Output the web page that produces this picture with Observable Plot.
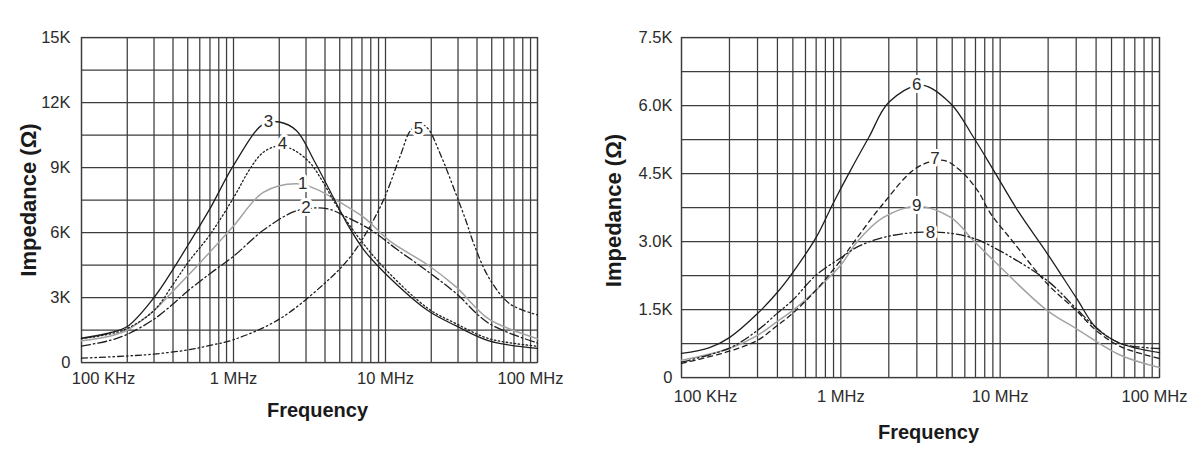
<!DOCTYPE html>
<html><head><meta charset="utf-8">
<script src="https://cdn.jsdelivr.net/npm/d3@7"></script>
<script src="https://cdn.jsdelivr.net/npm/@observablehq/plot@0.6"></script>
<style>
body{margin:0;background:#fff}
#wrap{position:relative;width:1200px;height:458px;overflow:hidden;background:#fff}
#wrap svg{position:absolute;top:0}
</style>
</head><body><div id="wrap"></div>
<script>
// ---------- shared ----------
const xTitle = "Frequency";
const yTitle = "Impedance (Ω)";
const xTicks = [1e5, 1e6, 1e7, 1e8];
const xTickLabels = ["100 KHz", "1 MHz", "10 MHz", "100 MHz"];
const logGrid = [1e5,2e5,3e5,4e5,5e5,6e5,7e5,8e5,9e5,1e6,2e6,3e6,4e6,5e6,6e6,7e6,8e6,9e6,1e7,2e7,3e7,4e7,5e7,6e7,7e7,8e7,9e7,1e8];

// ---------- left chart ----------
const leftYTicks = [0, 3000, 6000, 9000, 12000, 15000];
const leftYTickLabels = ["0", "3K", "6K", "9K", "12K", "15K"];
const leftYGrid = [0,1500,3000,4500,6000,7500,9000,10500,12000,13500,15000];

const c1F = [1e5,1.5e5,2e5,3e5,4e5,5e5,7e5,1e6,1.57e6,2.6e6,3.5e6,5e6,7.2e6,1.07e7,1.9e7,2.9e7,4.8e7,1e8];
const c1V = [1000,1200,1500,2400,3300,4000,5100,6300,7850,8250,8000,7400,6700,5600,4500,3500,2000,1100];
const c2F = [1e5,1.5e5,2e5,3e5,4e5,5e5,7e5,1e6,1.57e6,2.6e6,4.1e6,5.6e6,8.1e6,1.2e7,1.9e7,2.9e7,4.8e7,1e8];
const c2V = [760,1000,1300,2000,2700,3300,4100,4900,6100,7000,7100,6700,6100,5200,4200,3200,1800,900];
const c3F = [1e5,1.5e5,2e5,3e5,4e5,5e5,7e5,1e6,1.57e6,2e6,2.6e6,3.4e6,4.4e6,5.6e6,7.2e6,1e7,1.9e7,2.9e7,4.8e7,1e8];
const c3V = [1120,1350,1660,3000,4300,5400,7100,9100,11000,11100,10700,9300,7800,6400,5200,4100,2400,1700,1000,650];
const c4F = [1e5,1.5e5,2e5,3e5,4e5,5e5,7e5,1e6,1.3e6,1.57e6,2e6,2.5e6,3.2e6,3.9e6,4.8e6,6.6e6,1e7,1.9e7,2.9e7,4.8e7,1e8];
const c4V = [1100,1300,1570,2400,3600,4600,5900,7600,9000,9700,10000,9800,9200,8300,7200,5800,4300,2500,1800,1100,750];
const c5F = [1e5,2e5,3e5,5e5,7e5,1e6,2e6,3.9e6,5.6e6,7.2e6,9.7e6,1.26e7,1.46e7,1.7e7,1.9e7,2.3e7,2.9e7,3.4e7,3.8e7,4.8e7,6.6e7,1e8];
const c5V = [200,300,390,580,790,1050,2000,3600,4700,5800,7500,9600,10700,11000,10800,9600,7800,6500,5500,3900,2700,2200];

const leftLabelF = [2.85e6, 3.0e6, 1.7e6, 2.1e6, 1.65e7];
const leftLabelV = [8260, 7150, 11100, 10100, 10800];
const leftLabelText = ["1", "2", "3", "4", "5"];

// ---------- right chart ----------
const rightYTicks = [0, 1500, 3000, 4500, 6000, 7500];
const rightYTickLabels = ["0", "1.5K", "3.0K", "4.5K", "6.0K", "7.5K"];
const rightYGrid = [0,750,1500,2250,3000,3750,4500,5250,6000,6750,7500];

const c6F = [1e5,1.5e5,2e5,3e5,4e5,5e5,7e5,9e5,1.15e6,1.5e6,2e6,3.2e6,4.9e6,6.8e6,9.1e6,1.29e7,1.97e7,3e7,4e7,5.7e7,1e8];
const c6V = [530,660,880,1410,1880,2320,3090,3860,4570,5300,6070,6450,6040,5300,4570,3680,2740,1760,1100,750,550];
const c7F = [1e5,2e5,3e5,4e5,5e5,7e5,1e6,1.27e6,1.85e6,3e6,4.4e6,5.6e6,7.2e6,8.7e6,1.2e7,1.97e7,3e7,4e7,5.7e7,1e8];
const c7V = [310,580,820,1150,1420,1930,2590,3090,3840,4630,4790,4570,4130,3620,3000,2070,1480,1040,680,420];
const c8F = [1e5,2e5,3e5,4e5,5e5,7e5,1e6,1.27e6,1.85e6,3e6,4.9e6,6.8e6,9.1e6,1.97e7,3e7,4e7,5.7e7,1e8];
const c8V = [340,650,1040,1420,1710,2260,2640,2880,3090,3200,3180,3070,2870,2140,1520,1100,750,640];
const c9F = [1e5,2e5,3e5,4e5,5e5,7e5,1e6,1.27e6,1.85e6,3e6,4.9e6,6.8e6,9.1e6,1.97e7,3e7,5.7e7,1e8];
const c9V = [380,640,930,1240,1480,1930,2480,3000,3530,3780,3530,3020,2580,1480,1080,490,220];

const rightLabelF = [3.0e6, 3.9e6, 3.65e6, 3.0e6];
const rightLabelV = [6460, 4830, 3200, 3800];
const rightLabelText = ["6", "7", "8", "9"];

// ---------- helpers ----------
const pts = (F, V) => F.map((f, i) => ({f, v: V[i]}));
const lbls = (F, V, T) => F.map((f, i) => ({f, v: V[i], t: T[i]}));
const FONT = "'Liberation Sans', Arial, Helvetica, sans-serif";
const GRID = {stroke: "#3c3c3c", strokeOpacity: 1, strokeWidth: 1.25};
const BLACK = "#1e1e1e", GRAY = "#a3a3a3";

function curve(F, V, stroke, dash, w) {
  return Plot.line(pts(F, V), {x: "f", y: "v", curve: "catmull-rom", stroke, strokeWidth: w || 1.3, strokeDasharray: dash || null});
}

function chart(cfg) {
  const fmtY = d => cfg.yLabels[cfg.yTicks.indexOf(d)];
  const fmtX = d => xTickLabels[xTicks.indexOf(d)];
  const axX = (ticks, dx) => Plot.axisX(ticks, {tickSize: 0, tickPadding: cfg.xPad, tickFormat: fmtX, dx, label: null, fontSize: 16.5});
  return Plot.plot({
    width: cfg.width, height: 458,
    marginLeft: cfg.ml, marginRight: cfg.mr, marginTop: cfg.mt, marginBottom: cfg.mb,
    x: {type: "log", domain: [1e5, 1e8]},
    y: {domain: cfg.yDomain},
    style: {fontFamily: FONT, fontSize: "16px", color: "#2b2b2b", background: "white", overflow: "visible"},
    marks: [
      Plot.gridX(logGrid, GRID),
      Plot.gridY(cfg.yGrid, GRID),
      Plot.frame({stroke: "#3c3c3c", strokeWidth: 1.25}),
      ...cfg.curves,
      Plot.text(cfg.labels, {x: "f", y: "v", text: "t", fontSize: 17, fill: "#2b2b2b", stroke: "white", strokeWidth: 6}),
      Plot.axisY(cfg.yTicks, {tickSize: 0, tickPadding: cfg.yPad, tickFormat: fmtY, label: null, fontSize: 16.5}),
      axX([xTicks[0]], cfg.firstDx),
      axX([xTicks[1], xTicks[2]], 0),
      axX([xTicks[3]], cfg.lastDx),
      Plot.text([xTitle], {frameAnchor: "bottom", lineAnchor: "middle", textAnchor: "middle", dy: cfg.xTitleDy, dx: 8, text: d => d, fontWeight: "bold", fontSize: 20, fill: "#1a1a1a"}),
      Plot.text([yTitle], {frameAnchor: "left", lineAnchor: "middle", textAnchor: "middle", dx: cfg.yTitleDx, dy: cfg.yTitleDy, rotate: -90, text: d => d, fontWeight: "bold", fontSize: 22, fill: "#1a1a1a"})
    ]
  });
}

const left = chart({
  width: 590, ml: 81, mr: 53, mt: 37, mb: 96,
  yDomain: [0, 15000], yTicks: leftYTicks, yLabels: leftYTickLabels, yGrid: leftYGrid,
  xPad: 10, yPad: 11, firstDx: 22, lastDx: -7, xTitleDy: 48, yTitleDx: -53, yTitleDy: 0,
  curves: [
    curve(c5F, c5V, BLACK, "6,3,1.5,3,1.5,3"),
    curve(c2F, c2V, BLACK, "9,3,1.5,3"),
    curve(c1F, c1V, GRAY, null, 1.5),
    curve(c4F, c4V, BLACK, "1.5,2.5"),
    curve(c3F, c3V, BLACK)
  ],
  labels: lbls(leftLabelF, leftLabelV, leftLabelText)
});

const right = chart({
  width: 610, ml: 91, mr: 41, mt: 37, mb: 81,
  yDomain: [0, 7500], yTicks: rightYTicks, yLabels: rightYTickLabels, yGrid: rightYGrid,
  xPad: 13, yPad: 9, firstDx: 24, lastDx: -5, xTitleDy: 55, yTitleDx: -68, yTitleDy: 3,
  curves: [
    curve(c9F, c9V, GRAY, null, 1.5),
    curve(c8F, c8V, BLACK, "9,3,1.5,3,1.5,3"),
    curve(c7F, c7V, BLACK, "5,4"),
    curve(c6F, c6V, BLACK)
  ],
  labels: lbls(rightLabelF, rightLabelV, rightLabelText)
});

const wrap = document.getElementById("wrap");
left.style.left = "0px";
right.style.left = "590px";
wrap.appendChild(left);
wrap.appendChild(right);
</script>
</body></html>
